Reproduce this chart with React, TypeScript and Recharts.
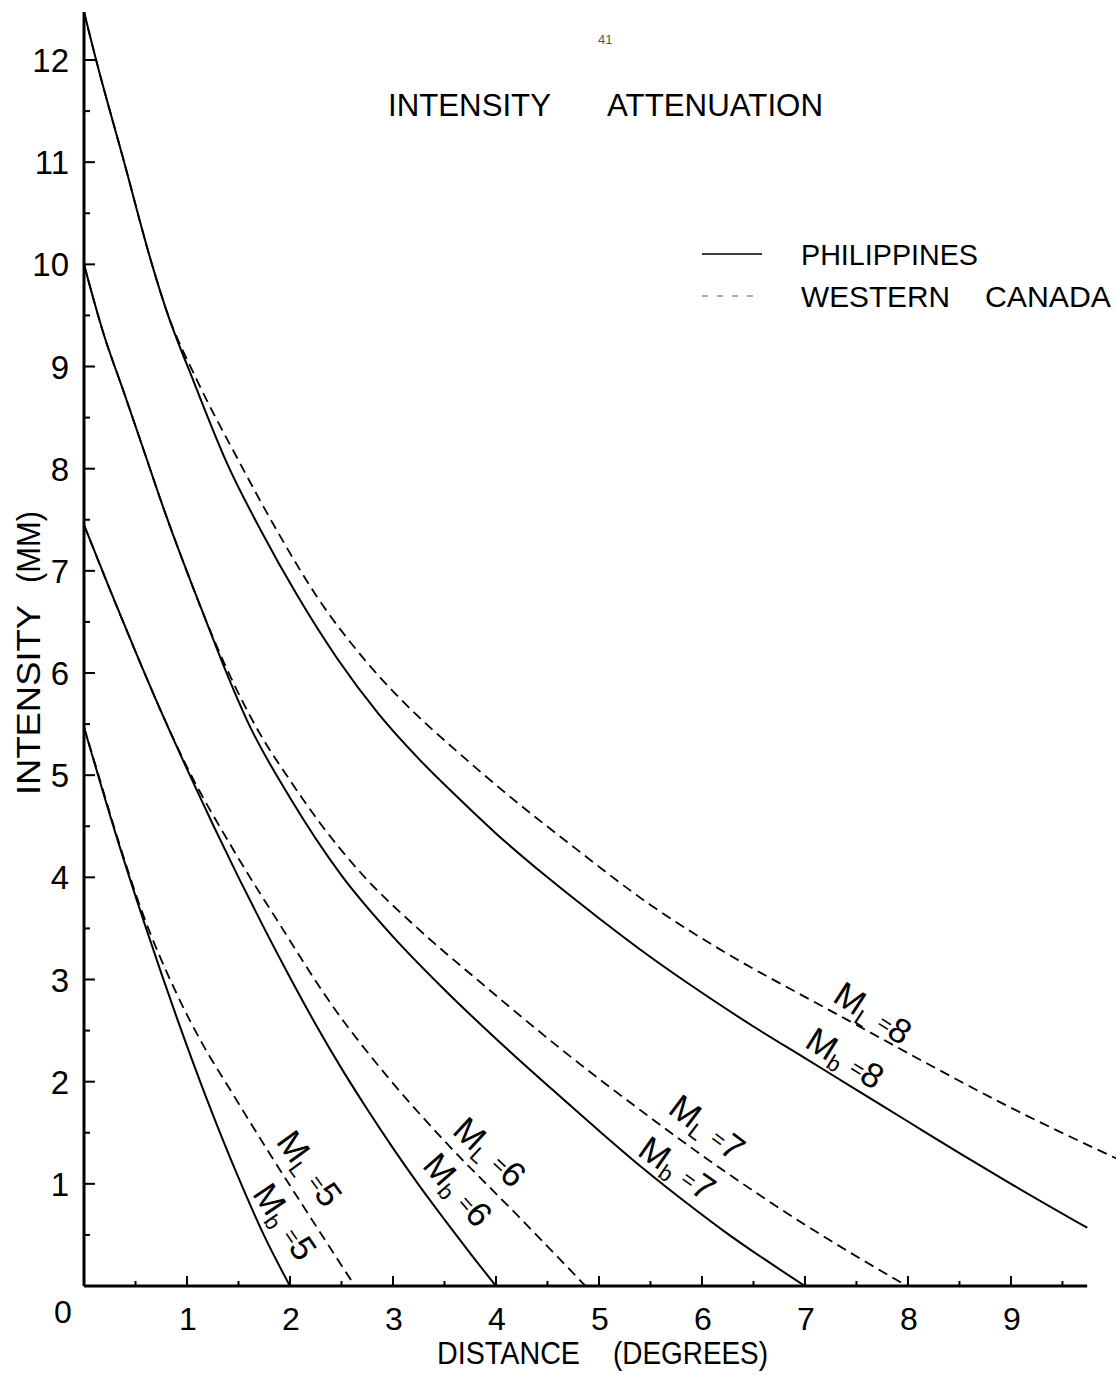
import React from 'react';
import { LineChart, Line, XAxis, YAxis, ReferenceLine, ReferenceDot } from 'recharts';

const FONT = '"Liberation Sans", "DejaVu Sans", Arial, sans-serif';
const INK = '#000';

// Philippines attenuation curves (body-wave magnitude Mb)
const philMb5 = [
  { x: 0, y: 5.47 }, { x: 0.3, y: 4.45 }, { x: 0.6, y: 3.51 }, { x: 0.9, y: 2.63 },
  { x: 1.2, y: 1.81 }, { x: 1.5, y: 1.06 }, { x: 1.75, y: 0.49 }, { x: 2.0, y: 0 },
];
const philMb6 = [
  { x: 0, y: 7.45 }, { x: 0.25, y: 6.82 }, { x: 0.5, y: 6.21 }, { x: 0.75, y: 5.62 },
  { x: 1.0, y: 5.06 }, { x: 1.25, y: 4.52 }, { x: 1.5, y: 4.0 }, { x: 1.75, y: 3.5 },
  { x: 2.0, y: 3.02 }, { x: 2.25, y: 2.56 }, { x: 2.5, y: 2.13 }, { x: 2.75, y: 1.73 },
  { x: 3.0, y: 1.35 }, { x: 3.25, y: 0.99 }, { x: 3.5, y: 0.65 }, { x: 3.75, y: 0.32 },
  { x: 4.0, y: 0 },
];
const philMb7 = [
  { x: 0, y: 10.0 }, { x: 0.19, y: 9.32 }, { x: 0.39, y: 8.74 }, { x: 0.58, y: 8.18 },
  { x: 0.78, y: 7.59 }, { x: 0.97, y: 7.07 }, { x: 1.17, y: 6.55 }, { x: 1.36, y: 6.06 },
  { x: 1.6, y: 5.5 }, { x: 2.0, y: 4.78 }, { x: 2.5, y: 4.02 }, { x: 3.0, y: 3.42 },
  { x: 3.5, y: 2.9 }, { x: 4.0, y: 2.42 }, { x: 4.55, y: 1.92 }, { x: 5.0, y: 1.52 },
  { x: 5.43, y: 1.15 }, { x: 5.88, y: 0.79 }, { x: 6.21, y: 0.54 }, { x: 7.0, y: 0 },
];
const philMb8 = [
  { x: 0, y: 12.47 }, { x: 0.11, y: 12.03 }, { x: 0.39, y: 11.0 }, { x: 0.66, y: 10.0 },
  { x: 0.8, y: 9.55 }, { x: 1.07, y: 8.84 }, { x: 1.39, y: 8.05 }, { x: 1.72, y: 7.39 },
  { x: 2.07, y: 6.76 }, { x: 2.46, y: 6.14 }, { x: 2.86, y: 5.6 }, { x: 3.26, y: 5.15 },
  { x: 3.6, y: 4.81 }, { x: 4.0, y: 4.43 }, { x: 4.5, y: 4.0 }, { x: 5.0, y: 3.6 },
  { x: 5.5, y: 3.22 }, { x: 6.0, y: 2.87 }, { x: 6.5, y: 2.54 }, { x: 7.0, y: 2.23 },
  { x: 7.5, y: 1.92 }, { x: 8.0, y: 1.61 }, { x: 8.5, y: 1.3 }, { x: 9.0, y: 1.0 },
  { x: 9.74, y: 0.57 },
];

// Western Canada attenuation curves (local magnitude ML)
const canML5 = [
  { x: 0, y: 5.47 }, { x: 0.12, y: 5.07 }, { x: 0.33, y: 4.37 }, { x: 0.55, y: 3.7 },
  { x: 0.9, y: 2.86 }, { x: 1.15, y: 2.37 }, { x: 1.42, y: 1.92 }, { x: 1.8, y: 1.3 },
  { x: 2.2, y: 0.67 }, { x: 2.63, y: 0 },
];
const canML6 = [
  { x: 0, y: 7.45 }, { x: 0.25, y: 6.82 }, { x: 0.5, y: 6.21 }, { x: 0.75, y: 5.62 },
  { x: 1.0, y: 5.08 }, { x: 1.45, y: 4.27 }, { x: 1.9, y: 3.54 }, { x: 2.4, y: 2.76 },
  { x: 2.97, y: 2.02 }, { x: 3.5, y: 1.42 }, { x: 4.2, y: 0.7 }, { x: 4.87, y: 0 },
];
const canML7 = [
  { x: 0, y: 10.0 }, { x: 0.19, y: 9.32 }, { x: 0.39, y: 8.74 }, { x: 0.58, y: 8.18 },
  { x: 0.78, y: 7.59 }, { x: 0.97, y: 7.07 }, { x: 1.17, y: 6.55 }, { x: 1.36, y: 6.1 },
  { x: 1.7, y: 5.42 }, { x: 2.0, y: 4.95 }, { x: 2.3, y: 4.52 }, { x: 2.7, y: 4.03 },
  { x: 3.24, y: 3.5 }, { x: 3.84, y: 2.98 }, { x: 4.63, y: 2.32 }, { x: 5.43, y: 1.7 },
  { x: 6.21, y: 1.13 }, { x: 7.0, y: 0.6 }, { x: 7.99, y: 0 },
];
const canML8 = [
  { x: 0, y: 12.47 }, { x: 0.11, y: 12.03 }, { x: 0.39, y: 11.0 }, { x: 0.66, y: 10.0 },
  { x: 0.8, y: 9.55 }, { x: 1.1, y: 8.86 }, { x: 1.49, y: 8.1 }, { x: 1.87, y: 7.4 },
  { x: 2.26, y: 6.75 }, { x: 2.75, y: 6.1 }, { x: 3.26, y: 5.56 }, { x: 3.58, y: 5.27 },
  { x: 4.1, y: 4.82 }, { x: 4.75, y: 4.3 }, { x: 5.5, y: 3.73 }, { x: 6.3, y: 3.22 },
  { x: 7.0, y: 2.83 }, { x: 7.42, y: 2.6 }, { x: 8.2, y: 2.17 }, { x: 8.97, y: 1.76 },
  { x: 10.02, y: 1.25 },
];

// Axis ticks: integers are labelled, half steps are minor marks
const xTicks = [0, 0.5, 1, 1.5, 2, 2.5, 3, 3.5, 4, 4.5, 5, 5.5, 6, 6.5, 7, 7.5, 8, 8.5, 9, 9.5];
const yTicks = [0.5, 1, 1.5, 2, 2.5, 3, 3.5, 4, 4.5, 5, 5.5, 6, 6.5, 7, 7.5, 8, 8.5, 9, 9.5, 10, 10.5, 11, 11.5, 12];

// Magnitude tags written along the curves
const curveTags = [
  { x: 2.19, y: 1.15, angle: 54, sub: 'L', value: '5' },
  { x: 1.95, y: 0.63, angle: 56, sub: 'b', value: '5' },
  { x: 3.94, y: 1.31, angle: 43, sub: 'L', value: '6' },
  { x: 3.63, y: 0.94, angle: 49, sub: 'b', value: '6' },
  { x: 6.05, y: 1.55, angle: 37, sub: 'L', value: '7' },
  { x: 5.76, y: 1.15, angle: 35, sub: 'b', value: '7' },
  { x: 7.66, y: 2.67, angle: 33, sub: 'L', value: '8' },
  { x: 7.39, y: 2.23, angle: 32, sub: 'b', value: '8' },
];

const XTick = (props: any) => {
  const { x, y, payload } = props;
  const v = payload.value as number;
  const major = Number.isInteger(v);
  return (
    <g>
      {v !== 0 && (
        <line x1={x} x2={x} y1={y} y2={y - (major ? 10 : 5)} stroke={INK} strokeWidth={2} />
      )}
      {major && (
        <text
          x={v === 0 ? x - 21 : x + 1}
          y={v === 0 ? y + 37 : y + 44}
          textAnchor="middle"
          fontFamily={FONT}
          fontSize={32}
          fill={INK}
        >
          {v}
        </text>
      )}
    </g>
  );
};

const YTick = (props: any) => {
  const { x, y, payload } = props;
  const v = payload.value as number;
  const major = Number.isInteger(v);
  return (
    <g>
      <line x1={x} x2={x + (major ? 11 : 6)} y1={y} y2={y} stroke={INK} strokeWidth={2} />
      {major && (
        <text x={x - 15} y={y + 12} textAnchor="end" fontFamily={FONT} fontSize={33} fill={INK}>
          {v}
        </text>
      )}
    </g>
  );
};

const makeTag = (t: { angle: number; sub: string; value: string }) => (p: any) => (
  <text
    transform={`translate(${p.cx},${p.cy}) rotate(${t.angle})`}
    textAnchor="middle"
    fontFamily={FONT}
    fill={INK}
    fontSize={35}
    y={12}
  >
    M
    <tspan fontSize={22} dy={6}>{t.sub}</tspan>
    <tspan fontSize={22} dy={-8} dx={10}>=</tspan>
    <tspan fontSize={35} dy={2}>{t.value}</tspan>
  </text>
);

const solid = { stroke: INK, strokeWidth: 2, dot: false, isAnimationActive: false, type: 'monotone' as const };
const dashed = { ...solid, strokeDasharray: '10 6', strokeWidth: 1.8 };

export default function App() {
  return (
    <div style={{ position: 'absolute', left: 0, top: 0, width: 1116, height: 1375, background: '#fff' }}>
      <LineChart width={1116} height={1375} margin={{ top: 12, right: 0, bottom: 29, left: 24 }}>
        <XAxis
          type="number"
          dataKey="x"
          domain={[0, 10.02]}
          allowDataOverflow
          ticks={xTicks}
          interval={0}
          axisLine={false}
          tickLine={false}
          tickSize={0}
          tickMargin={0}
          height={60}
          tick={<XTick />}
        />
        <YAxis
          type="number"
          dataKey="y"
          domain={[0, 12.47]}
          allowDataOverflow
          ticks={yTicks}
          interval={0}
          axisLine={{ stroke: INK, strokeWidth: 3 }}
          tickLine={false}
          tickSize={0}
          tickMargin={0}
          width={60}
          tick={<YTick />}
        />
        <ReferenceLine
          segment={[{ x: 0, y: 0 }, { x: 9.74, y: 0 }]}
          stroke={INK}
          strokeWidth={3}
          ifOverflow="visible"
        />
        <Line data={philMb5} dataKey="y" {...solid} />
        <Line data={philMb6} dataKey="y" {...solid} />
        <Line data={philMb7} dataKey="y" {...solid} />
        <Line data={philMb8} dataKey="y" {...solid} />
        <Line data={canML5} dataKey="y" {...dashed} />
        <Line data={canML6} dataKey="y" {...dashed} />
        <Line data={canML7} dataKey="y" {...dashed} />
        <Line data={canML8} dataKey="y" {...dashed} />
        {curveTags.map((t, i) => (
          <ReferenceDot key={i} x={t.x} y={t.y} r={0} ifOverflow="visible" shape={makeTag(t)} />
        ))}
      </LineChart>
      <svg
        width={1116}
        height={1375}
        style={{ position: 'absolute', left: 0, top: 0, pointerEvents: 'none' }}
      >
        <text x={598} y={44} fontFamily={FONT} fontSize={13} fill="#555">41</text>
        <text x={388} y={116} fontFamily={FONT} fontSize={32} fill={INK} textLength={163} lengthAdjust="spacingAndGlyphs">INTENSITY</text>
        <text x={607} y={116} fontFamily={FONT} fontSize={32} fill={INK} textLength={216} lengthAdjust="spacingAndGlyphs">ATTENUATION</text>

        <line x1={702} x2={762} y1={254} y2={254} stroke={INK} strokeWidth={1.5} />
        <text x={801} y={265} fontFamily={FONT} fontSize={30} fill={INK} textLength={177} lengthAdjust="spacingAndGlyphs">PHILIPPINES</text>
        <line x1={702} x2={762} y1={296} y2={296} stroke="#555" strokeWidth={1.2} strokeDasharray="6 9" />
        <text x={801} y={307} fontFamily={FONT} fontSize={30} fill={INK} textLength={149} lengthAdjust="spacingAndGlyphs">WESTERN</text>
        <text x={985} y={307} fontFamily={FONT} fontSize={30} fill={INK} textLength={126} lengthAdjust="spacingAndGlyphs">CANADA</text>

        <text x={437} y={1364} fontFamily={FONT} fontSize={32} fill={INK} textLength={143} lengthAdjust="spacingAndGlyphs">DISTANCE</text>
        <text x={613} y={1364} fontFamily={FONT} fontSize={32} fill={INK} textLength={155} lengthAdjust="spacingAndGlyphs">(DEGREES)</text>

        <g transform="translate(40,795) rotate(-90)">
          <text x={0} y={0} fontFamily={FONT} fontSize={33} fill={INK} textLength={190} lengthAdjust="spacingAndGlyphs">INTENSITY</text>
          <text x={212} y={0} fontFamily={FONT} fontSize={33} fill={INK} textLength={72} lengthAdjust="spacingAndGlyphs">(MM)</text>
        </g>
      </svg>
    </div>
  );
}
